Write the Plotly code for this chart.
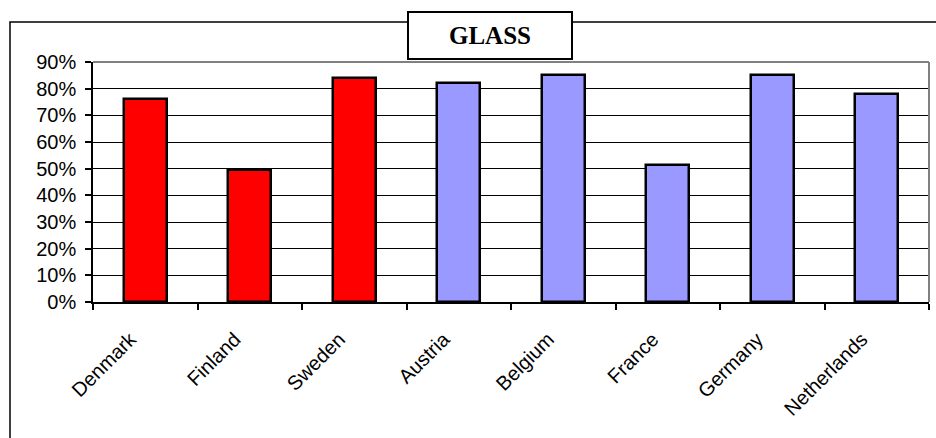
import plotly.graph_objects as go

# Glass recycling rates by country
countries = ["Denmark", "Finland", "Sweden", "Austria", "Belgium",
             "France", "Germany", "Netherlands"]
rates = [0.76, 0.495, 0.84, 0.822, 0.852, 0.514, 0.85, 0.78]
groups = ["Nordic", "Nordic", "Nordic", "Other", "Other",
          "Other", "Other", "Other"]
group_colors = {"Nordic": "#FF0000", "Other": "#9999FF"}
y_ticks = [0, 0.1, 0.2, 0.3, 0.4, 0.5, 0.6, 0.7, 0.8, 0.9]

W, H = 936, 438
L, R, T, B = 93, 7, 62, 136
PW, PH = W - L - R, H - T - B


def px_x(p):
    return (p - L) / PW


def px_y(p):
    return (H - B - p) / PH


FONT = "Arial, Liberation Sans, sans-serif"

fig = go.Figure(go.Bar(
    x=countries,
    y=rates,
    width=0.41,
    marker=dict(color=[group_colors[g] for g in groups],
                line=dict(color="black", width=2.5)),
    hoverinfo="x+y",
))

shapes = [
    # outer chart frame
    dict(type="rect", xref="paper", yref="paper", layer="below",
         x0=px_x(10), x1=px_x(960), y0=px_y(460), y1=px_y(22),
         line=dict(color="black", width=1.5), fillcolor="white"),
    # plot area border (top and right)
    dict(type="line", xref="paper", yref="paper",
         x0=0, x1=1, y0=1, y1=1, line=dict(color="#808080", width=2)),
    dict(type="line", xref="paper", yref="paper",
         x0=1, x1=1, y0=0, y1=1, line=dict(color="#808080", width=2)),
]

fig.update_layout(
    width=W, height=H,
    margin=dict(l=L, r=R, t=T, b=B, pad=0),
    paper_bgcolor="white",
    plot_bgcolor="#C0C0C0",
    showlegend=False,
    bargap=0,
    font=dict(family=FONT, size=20, color="black"),
    shapes=shapes,
    annotations=[dict(
        text="<b>GLASS</b>", xref="paper", yref="paper",
        x=px_x(489.5), y=px_y(36), xanchor="center", yanchor="middle",
        showarrow=False, width=162, height=45,
        bgcolor="white", bordercolor="black", borderwidth=2, borderpad=0,
        font=dict(family="Times New Roman, Liberation Serif, serif",
                  size=25, color="black"),
    )],
    xaxis=dict(
        showline=True, linecolor="black", linewidth=1.5,
        ticks="outside", tickson="boundaries", ticklen=6,
        tickcolor="black", tickwidth=1.5,
        tickangle=-45, showgrid=False,
        ticklabelstandoff=16, ticklabelshift=-15,
        tickfont=dict(size=20),
    ),
    yaxis=dict(
        range=[0, 0.9], tickvals=y_ticks, tickformat=".0%",
        showline=True, linecolor="black", linewidth=1.5,
        ticks="outside", ticklen=6, tickcolor="black", tickwidth=1.5,
        showgrid=True, gridcolor="black", gridwidth=1,
        zeroline=False, ticklabelstandoff=5,
        tickfont=dict(size=20),
    ),
)

fig.write_html("out.html")
